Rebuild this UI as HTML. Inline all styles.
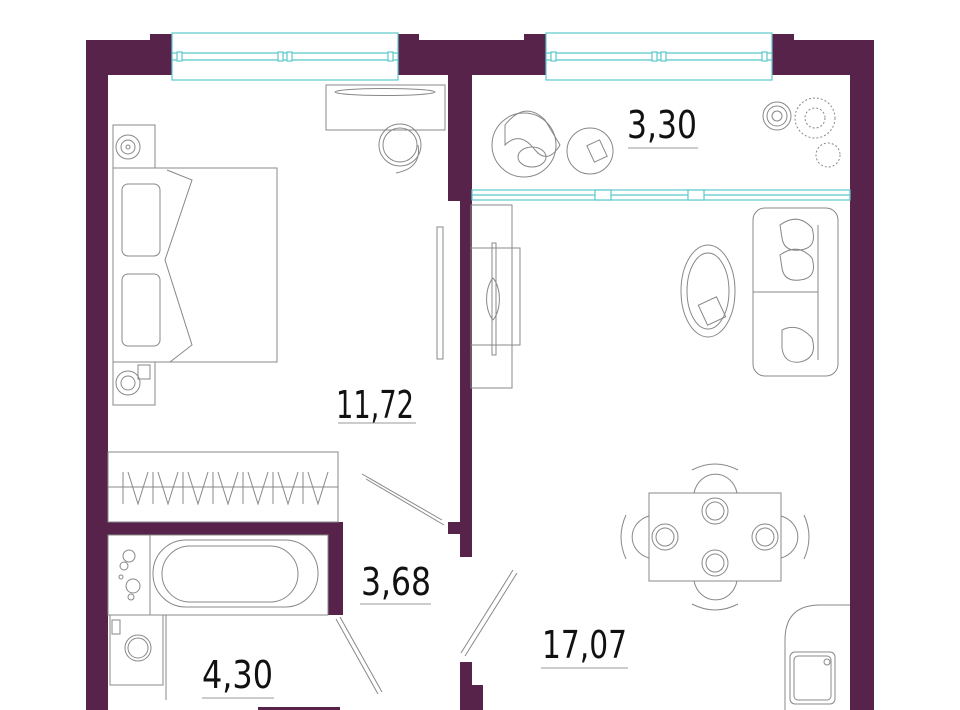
<!DOCTYPE html>
<html><head><meta charset="utf-8"><style>
html,body{margin:0;padding:0;background:#fff;width:960px;height:710px;overflow:hidden}
svg{display:block}
text{font-family:"DejaVu Sans","Liberation Sans",sans-serif;fill:#111}
</style></head><body>
<svg width="960" height="710" viewBox="0 0 960 710" xmlns="http://www.w3.org/2000/svg">
<g fill="#57234a">
<!-- outer walls -->
<rect x="86" y="40" width="788" height="35"/>
<rect x="86" y="40" width="22" height="670"/>
<rect x="850" y="40" width="24" height="670"/>
<rect x="150" y="34" width="27" height="6"/>
<rect x="392" y="34" width="27" height="6"/>
<rect x="524" y="34" width="27" height="6"/>
<rect x="767" y="34" width="27" height="6"/>
<!-- middle wall -->
<rect x="448" y="40" width="24" height="161"/>
<rect x="460" y="195" width="12" height="362"/>
<rect x="448" y="522" width="24" height="12"/>
<!-- bedroom / bath wall -->
<rect x="108" y="522" width="235" height="13"/>
<rect x="328" y="522" width="15" height="93"/>
<!-- bottom -->
<rect x="460" y="662" width="12" height="48"/>
<rect x="460" y="685" width="23" height="25"/>
<rect x="258" y="707" width="82" height="3"/>
</g>
<!-- windows -->
<g fill="#fff" stroke="#5cc8cc" stroke-width="1.2">
<rect x="172" y="33" width="226" height="27"/>
<rect x="172" y="60" width="226" height="20"/>
<rect x="546" y="33" width="226" height="27"/>
<rect x="546" y="60" width="226" height="20"/>
<line x1="172" y1="53" x2="398" y2="53"/>
<line x1="546" y1="53" x2="772" y2="53"/>
<rect x="177" y="52" width="5" height="9"/><rect x="278" y="52" width="5" height="9"/><rect x="287" y="52" width="5" height="9"/><rect x="388" y="52" width="5" height="9"/>
<rect x="551" y="52" width="5" height="9"/><rect x="652" y="52" width="5" height="9"/><rect x="661" y="52" width="5" height="9"/><rect x="762" y="52" width="5" height="9"/>
<rect x="472" y="190" width="378" height="10"/>
<line x1="472" y1="195" x2="850" y2="195"/>
<rect x="595" y="190" width="16" height="10"/><rect x="688" y="190" width="16" height="10"/>
</g>
<g fill="none" stroke="#888" stroke-width="1">
<!-- bedroom -->
<rect x="113" y="125" width="42" height="43"/>
<circle cx="128" cy="147" r="12"/><circle cx="128" cy="147" r="7"/><circle cx="128" cy="147" r="2"/>
<rect x="113" y="168" width="164" height="194"/>
<path d="M167 170 L192 180 L165 260 L192 345 L170 362"/>
<rect x="122" y="184" width="38" height="72" rx="6"/>
<rect x="122" y="274" width="38" height="72" rx="6"/>
<rect x="113" y="362" width="42" height="43"/>
<circle cx="128" cy="383" r="12"/><circle cx="128" cy="383" r="7"/>
<rect x="138" y="365" width="12" height="14"/>
<rect x="326" y="85" width="119" height="45"/>
<ellipse cx="385" cy="92" rx="50" ry="3.5"/>
<circle cx="400" cy="145" r="21"/><circle cx="400" cy="145" r="17"/>
<path d="M418 145 Q422 168 396 173"/>
<rect x="437" y="227" width="6" height="132"/>
<rect x="108" y="452" width="230" height="70"/>
<line x1="108" y1="487" x2="338" y2="487"/>
<path d="M123 472 L123 504 M128 472 L138 504 L148 472 M153 472 L153 504 M158 472 L168 504 L178 472 M183 472 L183 504 M188 472 L198 504 L208 472 M213 472 L213 504 M218 472 L228 504 L238 472 M243 472 L243 504 M248 472 L258 504 L268 472 M273 472 L273 504 M278 472 L288 504 L298 472 M303 472 L303 504 M308 472 L318 504 L328 472"/>
<!-- doors -->
<path d="M362 474 L442 520 M366 479 L444 525"/>
<path d="M517 573 L465 656 M513 570 L461 653"/>
<path d="M336 619 L378 694 M340 617 L382 692"/>
<!-- bath -->
<rect x="108" y="535" width="220" height="80"/>
<line x1="150" y1="535" x2="150" y2="615"/>
<rect x="153" y="540" width="165" height="67" rx="33"/>
<rect x="162" y="546" width="136" height="56" rx="28"/>
<circle cx="129" cy="556" r="6"/><circle cx="124" cy="566" r="4"/><circle cx="133" cy="586" r="7"/><circle cx="121" cy="577" r="2"/><circle cx="131" cy="597" r="3"/>
<rect x="110" y="615" width="53" height="70"/>
<rect x="112" y="620" width="8" height="14"/>
<circle cx="138" cy="648" r="13"/><circle cx="138" cy="648" r="10"/>
<line x1="166" y1="615" x2="166" y2="700"/>
<!-- loggia -->
<circle cx="524" cy="145" r="32"/>
<path d="M505 125 Q525 100 545 120 L560 145 Q548 165 535 150 Q520 130 505 145 Z"/>
<ellipse cx="532" cy="157" rx="14" ry="10"/>
<circle cx="590" cy="151" r="23"/>
<rect x="590" y="142" width="14" height="18" transform="rotate(-25 597 151)"/>
<circle cx="777" cy="116" r="14"/><circle cx="777" cy="116" r="10"/><circle cx="777" cy="116" r="5"/>
<circle cx="815" cy="118" r="20" stroke-dasharray="2 2"/><circle cx="815" cy="118" r="10" stroke-dasharray="2 2"/>
<circle cx="828" cy="155" r="12" stroke-dasharray="2 2"/>
<!-- living -->
<rect x="471" y="205" width="41" height="183"/>
<rect x="471" y="248" width="49" height="97"/>
<path d="M493 278 A14 25 0 0 0 493 320"/>
<path d="M493 278 A14 25 0 0 1 493 320"/>
<rect x="492" y="243" width="4" height="112"/>
<rect x="753" y="208" width="85" height="168" rx="12"/>
<line x1="753" y1="292" x2="818" y2="292"/>
<line x1="818" y1="225" x2="818" y2="360"/>
<path d="M780 225 Q798 212 812 228 Q818 248 800 250 Q784 252 782 238 Z"/>
<path d="M780 255 Q798 242 812 258 Q818 278 800 280 Q784 282 782 268 Z"/>
<path d="M782 330 Q798 322 812 338 Q818 358 800 362 Q784 364 782 348 Z"/>
<ellipse cx="708" cy="291" rx="27" ry="46"/>
<ellipse cx="708" cy="291" rx="21" ry="38"/>
<rect x="702" y="300" width="20" height="22" transform="rotate(-25 712 311)"/>
<!-- dining -->
<rect x="649" y="493" width="132" height="88"/>
<path d="M694 493 A22 24 0 0 1 737 493"/><path d="M692 470 Q715 458 738 470"/>
<path d="M694 581 A22 24 0 0 0 737 581"/><path d="M692 604 Q715 616 738 604"/>
<path d="M649 516 A24 22 0 0 0 649 558"/><path d="M626 515 Q616 537 626 559"/>
<path d="M781 516 A24 22 0 0 1 781 558"/><path d="M804 515 Q814 537 804 559"/>
<circle cx="715" cy="511" r="13"/><circle cx="715" cy="511" r="9"/>
<circle cx="715" cy="563" r="13"/><circle cx="715" cy="563" r="9"/>
<circle cx="665" cy="537" r="13"/><circle cx="665" cy="537" r="9"/>
<circle cx="765" cy="537" r="13"/><circle cx="765" cy="537" r="9"/>
<!-- kitchen -->
<path d="M785 710 L785 640 Q785 605 820 605 L850 605"/>
<rect x="790" y="652" width="45" height="52" rx="5"/>
<rect x="794" y="656" width="37" height="44" rx="4"/>
<circle cx="827" cy="662" r="3"/>
</g>
<g font-size="38">
<text x="336" y="418" textLength="78" lengthAdjust="spacingAndGlyphs">11,72</text>
<text x="627" y="138" textLength="70" lengthAdjust="spacingAndGlyphs">3,30</text>
<text x="361" y="595" textLength="70" lengthAdjust="spacingAndGlyphs">3,68</text>
<text x="202" y="688" textLength="71" lengthAdjust="spacingAndGlyphs">4,30</text>
<text x="542" y="658" textLength="85" lengthAdjust="spacingAndGlyphs">17,07</text>
</g>
<g stroke="#999" stroke-width="1">
<line x1="338" y1="423" x2="416" y2="423"/>
<line x1="628" y1="148" x2="698" y2="148"/>
<line x1="360" y1="604" x2="431" y2="604"/>
<line x1="202" y1="698" x2="274" y2="698"/>
<line x1="541" y1="668" x2="628" y2="668"/>
</g>
</svg>
</body></html>
